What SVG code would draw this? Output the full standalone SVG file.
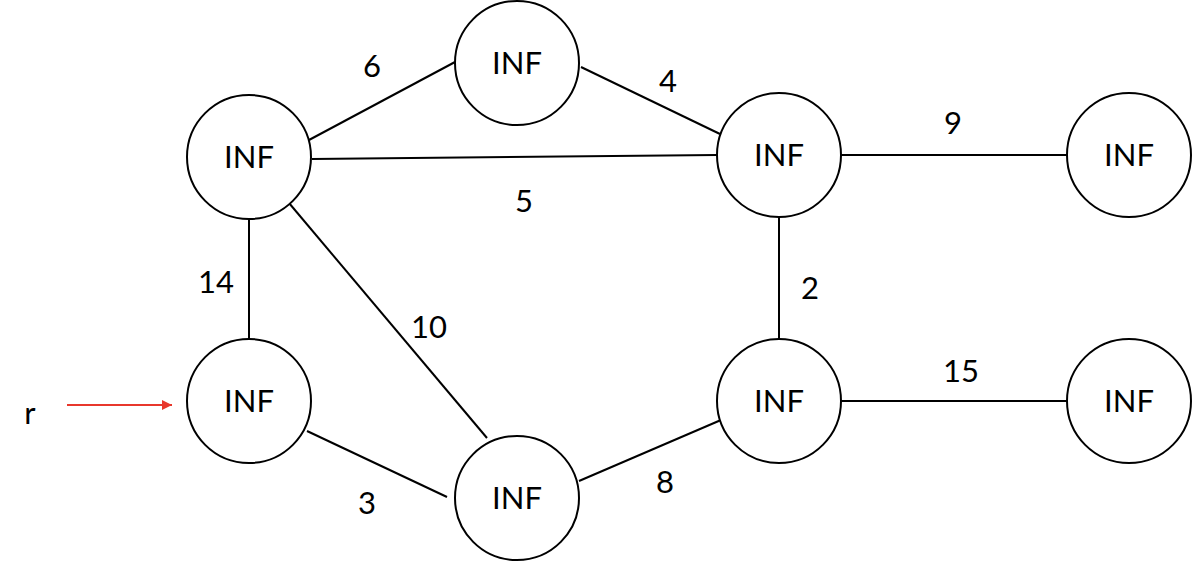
<svg xmlns="http://www.w3.org/2000/svg" width="1192" height="562" viewBox="0 0 1192 562">
<defs>
<style>
.n{fill:#fff;stroke:#000;stroke-width:2}
.t{font-family:Lato,"Open Sans",sans-serif;font-size:31px;fill:#000;text-anchor:middle}
.e{stroke:#000;stroke-width:2;fill:none}
</style>
<marker id="ah" viewBox="0 0 10 10" refX="10" refY="5" markerWidth="10" markerHeight="10" markerUnits="userSpaceOnUse" orient="auto">
<path d="M0,0 L10,5 L0,10 Z" fill="#e8372c"/>
</marker>
</defs>
<rect width="1192" height="562" fill="#fff"/>
<g id="connectors">
<line class="e" x1="309" y1="140" x2="455" y2="62"/>
<line class="e" x1="581" y1="67" x2="720" y2="134"/>
<line class="e" x1="312" y1="159" x2="717" y2="155"/>
<line class="e" x1="837" y1="155" x2="1067" y2="155"/>
<line class="e" x1="249" y1="219" x2="249" y2="339"/>
<line class="e" x1="289" y1="203" x2="487" y2="438"/>
<line class="e" x1="779" y1="217" x2="779" y2="339"/>
<line class="e" x1="307" y1="431" x2="447" y2="497"/>
<line class="e" x1="579" y1="481" x2="721" y2="420"/>
<line class="e" x1="837" y1="401" x2="1067" y2="401"/>
<line x1="67" y1="405" x2="172" y2="405" stroke="#e8372c" stroke-width="2" marker-end="url(#ah)"/>
<text class="t" x="372" y="77">6</text>
<text class="t" x="668" y="92">4</text>
<text class="t" x="524" y="212">5</text>
<text class="t" x="953" y="134">9</text>
<text class="t" x="216" y="293">14</text>
<text class="t" x="429" y="338">10</text>
<text class="t" x="810" y="299">2</text>
<text class="t" x="367" y="514">3</text>
<text class="t" x="665" y="493">8</text>
<text class="t" x="961" y="382">15</text>
<text class="t" x="30" y="424">r</text>
</g>
<g id="nA"><circle class="n" cx="249" cy="157" r="62"/><text class="t" x="249" y="168">INF</text></g>
<g id="nB"><circle class="n" cx="517" cy="63" r="62"/><text class="t" x="517" y="74">INF</text></g>
<g id="nC"><circle class="n" cx="779" cy="155" r="62"/><text class="t" x="779" y="166">INF</text></g>
<g id="nD"><circle class="n" cx="1129" cy="155" r="62"/><text class="t" x="1129" y="166">INF</text></g>
<g id="nE"><circle class="n" cx="249" cy="401" r="62"/><text class="t" x="249" y="412">INF</text></g>
<g id="nF"><circle class="n" cx="517" cy="498" r="62"/><text class="t" x="517" y="509">INF</text></g>
<g id="nG"><circle class="n" cx="779" cy="401" r="62"/><text class="t" x="779" y="412">INF</text></g>
<g id="nH"><circle class="n" cx="1129" cy="401" r="62"/><text class="t" x="1129" y="412">INF</text></g>
</svg>
